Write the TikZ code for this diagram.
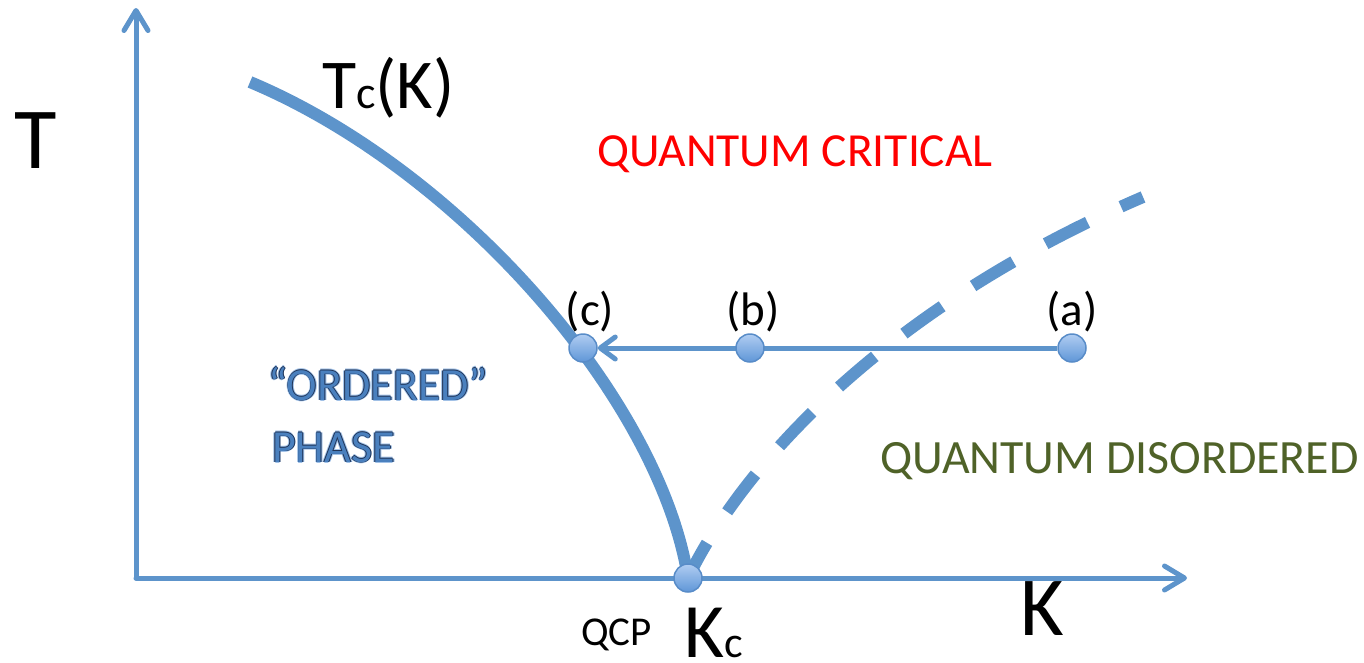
\documentclass[tikz,border=0pt]{standalone}
\usepackage{fontspec}
\setmainfont{Carlito}
\usetikzlibrary{arrows.meta}
\pgfdeclarelayer{bg}
\pgfsetlayers{bg,main}
\definecolor{axblue}{RGB}{93,148,203}
\definecolor{dotedge}{RGB}{88,140,200}
\definecolor{dottop}{RGB}{176,205,242}
\definecolor{dotbot}{RGB}{95,150,215}
\definecolor{qcred}{RGB}{255,0,0}
\definecolor{qdgreen}{RGB}{79,98,40}
\definecolor{ordblue}{RGB}{74,128,190}
\definecolor{ordedge}{RGB}{30,50,85}
\definecolor{ordglow}{RGB}{160,192,230}
\newcommand\olntxt[1]{\leavevmode
  \rlap{\hspace*{-1.7pt}\color{ordglow}#1}\rlap{\hspace*{1.7pt}\color{ordglow}#1}%
  \rlap{\raisebox{1.7pt}{\color{ordglow}#1}}\rlap{\raisebox{-1.7pt}{\color{ordglow}#1}}%
  \rlap{\hspace*{-0.8pt}\color{ordedge}#1}\rlap{\hspace*{0.8pt}\color{ordedge}#1}%
  \rlap{\raisebox{0.8pt}{\color{ordedge}#1}}\rlap{\raisebox{-0.8pt}{\color{ordedge}#1}}%
  {\color{ordblue}#1}}
\begin{document}
\begin{tikzpicture}[x=1pt,y=-1pt,
  axisline/.style={line width=5pt, draw=axblue, line cap=round,
    -{Straight Barb[length=20pt,width=24pt,line cap=round,line join=round]}},
  harrow/.style={line width=5pt, draw=axblue,
    -{Straight Barb[length=15pt,width=22pt,line cap=round,line join=round]}},
  bigcurve/.style={line width=12pt, draw=axblue},
  dashcurve/.style={line width=12pt, draw=axblue, dash pattern=on 47pt off 37pt, dash phase=7pt},
  dotnode/.style={circle, minimum size=28pt, inner sep=0pt, draw=dotedge, line width=1.5pt,
    top color=dottop, bottom color=dotbot},
  txt/.style={inner sep=0pt, anchor=base west, text=black},
]
\useasboundingbox (0,0) rectangle (1364,662);

% named points
\coordinate (O) at (136,578);
\coordinate (ytop) at (136,8);
\coordinate (xend) at (1187,578);
\coordinate (tcs) at (250,82);
\coordinate (dend) at (1143,197);

% dots
\node[dotnode] (qcp) at (688,578) {};
\node[dotnode] (c) at (583,348) {};
\node[dotnode] (b) at (750,348) {};
\node[dotnode] (a) at (1072,348) {};

\begin{pgfonlayer}{bg}
  \draw[axisline] (O) -- (ytop);
  \draw[axisline] (O) -- (xend);
  \draw[bigcurve] (tcs) .. controls (460,170) and (660,400) .. (qcp.center);
  \draw[dashcurve] (qcp.center) .. controls (740,470) and (880,310) .. (dend);
  \draw[harrow] (a) -- (c);
\end{pgfonlayer}

% labels
\node[txt, font=\fontsize{87}{90}\selectfont] (tlab) at (14,168) {T};
\node[txt, font=\fontsize{84}{90}\selectfont] (klab) at (1020,635) {K};
\node[txt] (tclab) at (322,108) {\fontsize{70}{76}\selectfont T\fontsize{46}{50}\selectfont c\fontsize{70}{76}\selectfont (K)};
\node[txt, font=\fontsize{41}{46}\selectfont] (qcplab) at (581,645) {QCP};
\node[txt] (kclab) at (684,657) {\fontsize{77}{82}\selectfont K\fontsize{44}{48}\selectfont c};
\node[txt, font=\fontsize{47}{52}\selectfont, anchor=base] (clab) at (590,325) {(c)};
\node[txt, font=\fontsize{47}{52}\selectfont, anchor=base] (blab) at (753,325) {(b)};
\node[txt, font=\fontsize{47}{52}\selectfont, anchor=base] (alab) at (1072,325) {(a)};
\node[txt, font=\fontsize{47.5}{54}\selectfont, text=qcred] (qclab) at (597,166) {QUANTUM CRITICAL};
\node[txt, font=\fontsize{47.8}{52}\selectfont, text=qdgreen] (qdlab) at (880,473) {QUANTUM DISORDERED};
\node[txt, font=\fontsize{46}{50}\selectfont] (ordlab) at (268,400) {\olntxt{“ORDERED”}};
\node[txt, font=\fontsize{46}{50}\selectfont] (phaselab) at (272,462) {\olntxt{PHASE}};
\end{tikzpicture}
\end{document}
